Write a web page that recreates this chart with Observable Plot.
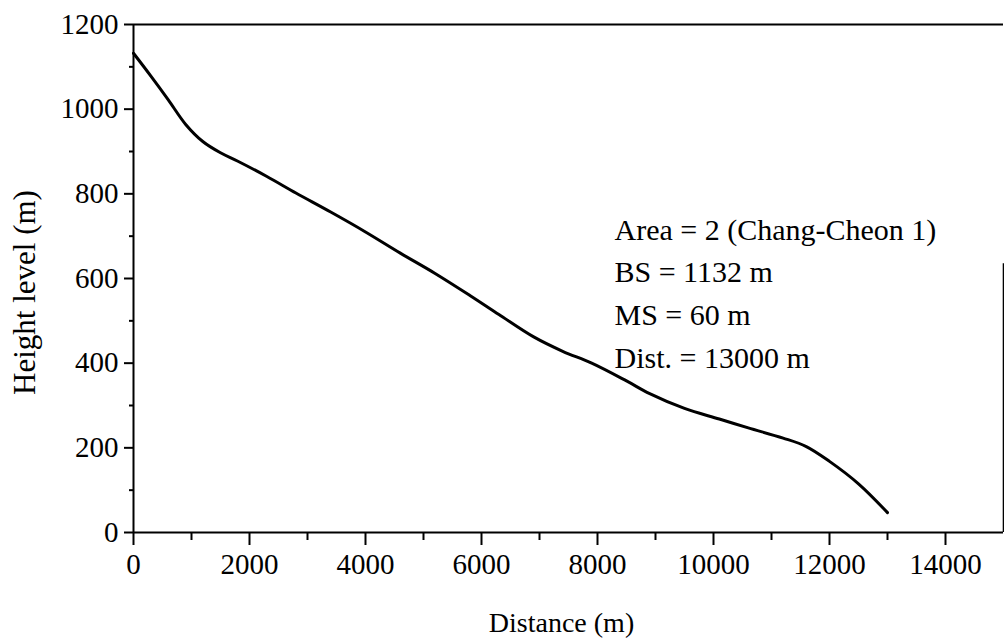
<!DOCTYPE html>
<html>
<head>
<meta charset="utf-8">
<script src="https://cdn.jsdelivr.net/npm/d3@7"></script>
<script src="https://cdn.jsdelivr.net/npm/@observablehq/plot@0.6"></script>
<style>
  html, body { margin: 0; padding: 0; background: #fff; }
  #chart svg { display: block; }
</style>
</head>
<body>
<div id="chart"></div>
<script>
// Profile data (distance in m, height level in m)
const distance = [0, 300, 600, 900, 1200, 1500, 1800, 2300, 2800, 3400, 4000, 4600, 5200, 5800, 6300, 6900, 7400, 7900, 8500, 8900, 9500, 10100, 10600, 11200, 11600, 12000, 12500, 13000];
const height   = [1132, 1078, 1022, 964, 923, 897, 877, 841, 802, 757, 710, 660, 612, 560, 515, 462, 428, 400, 358, 328, 293, 268, 247, 223, 203, 168, 115, 47];

const xTicks = [0, 2000, 4000, 6000, 8000, 10000, 12000, 14000];
const xMinorTicks = [1000, 3000, 5000, 7000, 9000, 11000, 13000];
const yTicks = [0, 200, 400, 600, 800, 1000, 1200];
const yMinorTicks = [100, 300, 500, 700, 900, 1100];

const annotation = ["Area = 2 (Chang-Cheon 1)", "BS = 1132 m", "MS = 60 m", "Dist. = 13000 m"];
const xLabel = "Distance (m)";
const yLabel = "Height level (m)";

const data = distance.map((d, i) => ({distance: d, height: height[i]}));

const font = "'Liberation Serif', 'DejaVu Serif', serif";

const chart = Plot.plot({
  width: 1004,
  height: 642,
  marginLeft: 133,
  marginRight: 1,
  marginTop: 24,
  marginBottom: 110,
  style: {fontFamily: font, fontSize: "29px", color: "#000", background: "#fff"},
  x: {domain: [0, 15000]},
  y: {domain: [0, 1200]},
  marks: [
    // axis frame lines
    Plot.ruleY([0], {stroke: "#000", strokeWidth: 2}),
    Plot.ruleX([0], {stroke: "#000", strokeWidth: 2}),
    Plot.ruleY([1200], {stroke: "#000", strokeWidth: 2}),
    Plot.ruleX([15000], {y1: 0, y2: 635, stroke: "#000", strokeWidth: 1.6}),
    // x axis ticks
    Plot.axisX({ticks: xMinorTicks, tickSize: 8, text: null, label: null, strokeWidth: 2}),
    Plot.axisX({ticks: xTicks, tickSize: 13, tickPadding: 8, tickFormat: d => String(d), label: null, strokeWidth: 2, fontSize: 29}),
    // y axis ticks
    Plot.axisY({ticks: yMinorTicks, tickSize: 4, text: null, label: null, strokeWidth: 2}),
    Plot.axisY({ticks: yTicks, tickSize: 9, tickPadding: 6, tickFormat: d => String(d), label: null, strokeWidth: 2, fontSize: 29}),
    // profile curve
    Plot.line(data, {x: "distance", y: "height", curve: "catmull-rom", stroke: "#000", strokeWidth: 3}),
    // annotation block
    Plot.text([annotation.join("\n")], {
      frameAnchor: "top-left", dx: 481, dy: 185, textAnchor: "start", lineAnchor: "top",
      lineHeight: 1.42, fontSize: 30, fill: "#000"
    }),
    // axis titles
    Plot.text([xLabel], {frameAnchor: "bottom", dx: -7, dy: 91, textAnchor: "middle", lineAnchor: "middle", fontSize: 28, fill: "#000"}),
    Plot.text([yLabel], {frameAnchor: "left", dx: -108, dy: 14, rotate: -90, textAnchor: "middle", lineAnchor: "middle", fontSize: 31, fill: "#000"})
  ]
});

document.getElementById("chart").appendChild(chart);
</script>
</body>
</html>
